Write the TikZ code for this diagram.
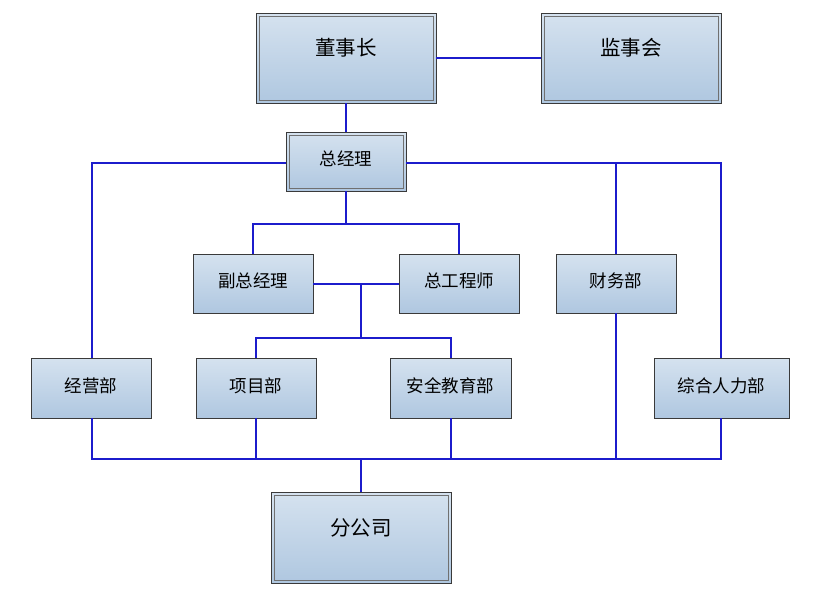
\documentclass[tikz,border=0pt]{standalone}
\usepackage{fontspec}
\newfontfamily\cjk{Noto Sans CJK SC}
\definecolor{boxtop}{HTML}{D5E2EF}
\definecolor{boxbot}{HTML}{AFC7E0}
\definecolor{boxedge}{HTML}{3A3A3A}
\definecolor{inneredge}{HTML}{707070}
\definecolor{conn}{HTML}{1C1CCC}
\newcommand{\upby}[2]{\raisebox{#1}{#2}}
\begin{document}
\begin{tikzpicture}[x=1pt,y=-1pt,
  box/.style={draw=boxedge,line width=0.9pt,top color=boxtop,bottom color=boxbot,
    minimum width=#1,inner sep=0pt,font=\cjk\fontsize{17.5}{17.5}\selectfont},
  box/.default=120pt,
  bigbox/.style={box=#1,font=\cjk\fontsize{20.5}{20.5}\selectfont},
  conline/.style={draw=conn,line width=1.2pt}]
\useasboundingbox (0,0) rectangle (829,600);
% nodes
\node[bigbox=180pt,minimum height=90pt] (dsz) at (346,58) {\upby{23pt}{董事长}};
\node[bigbox=180pt,minimum height=90pt] (jsh) at (631,58) {\upby{23pt}{监事会}};
\node[box=120pt,minimum height=59pt] (zjl) at (346,161.5) {\upby{6pt}{总经理}};
\node[box=120pt,minimum height=59pt] (fzjl) at (253,283.5) {\upby{6pt}{副总经理}};
\node[box=120pt,minimum height=59pt] (zgcs) at (459,283.5) {\upby{6pt}{总工程师}};
\node[box=120pt,minimum height=59pt] (cwb) at (616,283.5) {\upby{6pt}{财务部}};
\node[box=120pt,minimum height=60pt] (jyb) at (91,388) {\upby{6pt}{经营部}};
\node[box=120pt,minimum height=60pt] (xmb) at (256,388) {\upby{6pt}{项目部}};
\node[box=121pt,minimum height=60pt] (aqb) at (450.5,388) {\upby{6pt}{安全教育部}};
\node[box=135pt,minimum height=60pt] (zhb) at (721.5,388) {\upby{6pt}{综合人力部}};
\node[bigbox=180pt,minimum height=91pt] (fgs) at (361,537.5) {\upby{21pt}{分公司}};
% inner borders
\foreach \n in {dsz,jsh,zjl,fgs}
  \draw[inneredge,line width=0.7pt] ([shift={(3.5,3.5)}]\n.north west) rectangle ([shift={(-3.5,-3.5)}]\n.south east);
% helper coordinates
\coordinate (zl) at (92,163);
\coordinate (zr) at (721,163);
\coordinate (cwtop) at (616,163);
\coordinate (zb) at (346,224);
\coordinate (fl) at (253,224);
\coordinate (fr) at (459,224);
\coordinate (mid) at (361,284);
\coordinate (mb) at (361,338);
\coordinate (ml) at (256,338);
\coordinate (mr) at (451,338);
\coordinate (busl) at (92,459);
\coordinate (busr) at (721,459);
\coordinate (busm) at (361,459);
% connectors
\draw[conline] (dsz.east) -- (jsh.west);
\draw[conline] (dsz.south) -- (zjl.north);
\draw[conline] (zjl.west |- zl) -- (zl) -- (zl |- jyb.north);
\draw[conline] (zjl.east |- zr) -- (zr) -- (zr |- zhb.north);
\draw[conline] (cwtop) -- (cwb.north);
\draw[conline] (zjl.south) -- (zb);
\draw[conline] (fl |- fzjl.north) -- (fl) -- (fr) -- (fr |- zgcs.north);
\draw[conline] (fzjl.east |- mid) -- (zgcs.west |- mid);
\draw[conline] (mid) -- (mb);
\draw[conline] (ml |- xmb.north) -- (ml) -- (mr) -- (mr |- aqb.north);
\draw[conline] (busl |- jyb.south) -- (busl) -- (busr) -- (busr |- zhb.south);
\draw[conline] (ml |- xmb.south) -- (ml |- busl);
\draw[conline] (mr |- aqb.south) -- (mr |- busl);
\draw[conline] (cwb.south) -- (cwb.south |- busl);
\draw[conline] (busm) -- (fgs.north);
\end{tikzpicture}
\end{document}
